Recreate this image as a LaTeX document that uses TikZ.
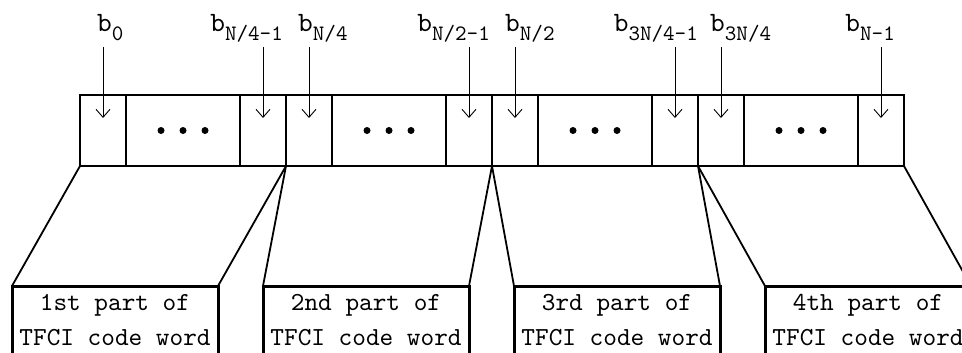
\documentclass[tikz,border=0pt]{standalone}
\usepackage{fontspec}
\usetikzlibrary{arrows.meta}

\newfontfamily\bfnt{lmmono10-regular.otf}
\newfontfamily\partfnt{lmmono10-regular.otf}
\newcommand{\bit}[1]{{\bfnt\fontsize{28}{28}\selectfont b\raisebox{-9pt}{\fontsize{22}{22}\selectfont #1}}}

\tikzset{
  grp/.style={draw, line width=2.4pt, minimum width=206pt, minimum height=71pt, inner sep=0, outer sep=0},
  cell/.style={draw, line width=1.2pt, minimum width=46pt, minimum height=71pt, inner sep=0, outer sep=0},
  part/.style={draw, line width=3pt, minimum width=206pt, minimum height=100pt, inner sep=0, outer sep=0},
  parttext/.style={align=center, inner sep=0, font=\partfnt\fontsize{26}{35}\selectfont},
  blabel/.style={inner sep=0},
  slant/.style={line width=1.8pt},
  bitarrow/.style={line width=0.9pt, -{Straight Barb[length=8pt,width=14pt]}}
}

\begin{document}
\begin{tikzpicture}[x=1pt, y=-1pt]
\useasboundingbox (0,0) rectangle (962,353);
\clip (0,0) rectangle (962,353);

% four parts of the code word
\foreach \i/\ord [evaluate=\i as \gx using 80+206*(\i-1), evaluate=\i as \px using 12+251*(\i-1)] in {1/1st,2/2nd,3/3rd,4/4th} {
  \node[grp, anchor=north west] (g\i) at (\gx,95) {};
  \node[cell, anchor=north west] (l\i) at (g\i.north west) {};
  \node[cell, anchor=north east] (r\i) at (g\i.north east) {};
  \foreach \d in {-22,0,22} \fill ([xshift=\d pt]g\i.center) circle (3.5);
  \draw[bitarrow] ([yshift=48pt]l\i.north) -- ([yshift=-23pt]l\i.north);
  \draw[bitarrow] ([yshift=48pt]r\i.north) -- ([yshift=-23pt]r\i.north);
  \node[part, anchor=north west] (p\i) at (\px,286) {};
  \node[parttext, anchor=base] (t\i) at ([yshift=-59pt]p\i.north) {\ord\ part of\\TFCI code word};
  \draw[slant] (g\i.south west) -- (p\i.north west);
  \draw[slant] (g\i.south east) -- (p\i.north east);
};

\node[blabel, anchor=base west] (b0) at (97,32) {\bit{0}};
\node[blabel, anchor=base east] (bq1) at (283,32) {\bit{N/4-1}};
\node[blabel, anchor=base west] (bq) at (298,32) {\bit{N/4}};
\node[blabel, anchor=base east] (bh1) at (490,32) {\bit{N/2-1}};
\node[blabel, anchor=base west] (bh) at (505,32) {\bit{N/2}};
\node[blabel, anchor=base east] (btq1) at (698,32) {\bit{3N/4-1}};
\node[blabel, anchor=base west] (btq) at (710,32) {\bit{3N/4}};
\node[blabel, anchor=base east] (bn1) at (895,32) {\bit{N-1}};

\end{tikzpicture}
\end{document}
